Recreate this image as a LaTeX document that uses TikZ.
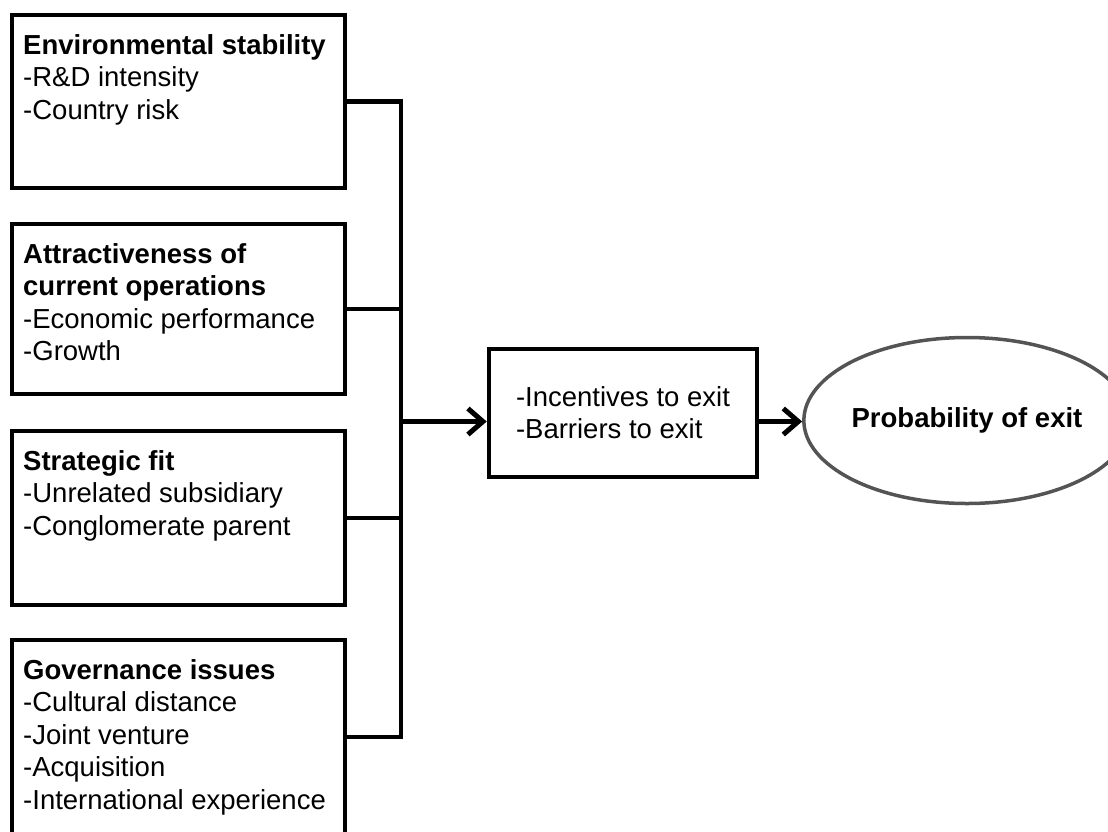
\documentclass[tikz,border=0pt]{standalone}
\usepackage{fontspec}
\setmainfont{Liberation Sans}
\usetikzlibrary{arrows.meta,shapes.geometric}

\begin{document}
\begin{tikzpicture}[x=1pt,y=-1pt,
  factorbox/.style={draw=black, line width=4.5pt, rectangle, minimum width=333pt, inner sep=0pt},
  factortext/.style={anchor=north west, inner sep=0pt, align=left, font=\fontsize{27.5}{32.5}\selectfont},
  link/.style={draw=black, line width=4.5pt, line join=miter},
  flow/.style={link, -{Straight Barb[length=15pt,width=26pt,line width=5pt]}},
  midbox/.style={draw=black, line width=4.5pt, rectangle, minimum width=268pt, minimum height=128pt, inner sep=0pt, align=left, font=\fontsize{27.5}{32}\selectfont},
  outcome/.style={draw=black!67, line width=3.5pt, ellipse, minimum width=278pt, minimum height=166pt, inner sep=0pt, font=\fontsize{27.5}{32}\selectfont\bfseries},
]
\useasboundingbox (0,0) rectangle (1108,831);
\clip (0,0) rectangle (1108,831);

% determinant boxes
\node[factorbox, minimum height=173pt] (env) at (178.5,101.5) {};
\node[factorbox, minimum height=170pt] (att) at (178.5,309) {};
\node[factorbox, minimum height=174pt] (str) at (178.5,518) {};
\node[factorbox, minimum height=194pt] (gov) at (178.5,737) {};

\node[factortext] (envtxt) at (23,31.25) {\strut\textbf{Environmental stability}\\-R\&D intensity\\-Country risk};
\node[factortext] (atttxt) at (23,240.25) {\strut\textbf{Attractiveness of}\\\textbf{current operations}\\-Economic performance\\-Growth};
\node[factortext] (strtxt) at (23,447.25) {\strut\textbf{Strategic fit}\\-Unrelated subsidiary\\-Conglomerate parent};
\node[factortext] (govtxt) at (23,656.25) {\strut\textbf{Governance issues}\\-Cultural distance\\-Joint venture\\-Acquisition\\-International experience};

% mechanism and outcome
\node[midbox] (mid) at (623,413) {-Incentives to exit\\-Barriers to exit};
\node[outcome] (prob) at (967,420.5) {Probability of exit};

% collecting bus
\coordinate (busx) at (401,0);
\coordinate (busmid) at (401,421.5);
\draw[link] (env.east) -- (env.east -| busx) -- (gov.east -| busx) -- (gov.east);
\draw[link] (att.east) -- (att.east -| busx);
\draw[link] (str.east) -- (str.east -| busx);

% arrows
\draw[flow] (busmid) -- (busmid -| mid.west);
\draw[flow] (busmid -| mid.east) -- (busmid -| prob.west);
\end{tikzpicture}
\end{document}
